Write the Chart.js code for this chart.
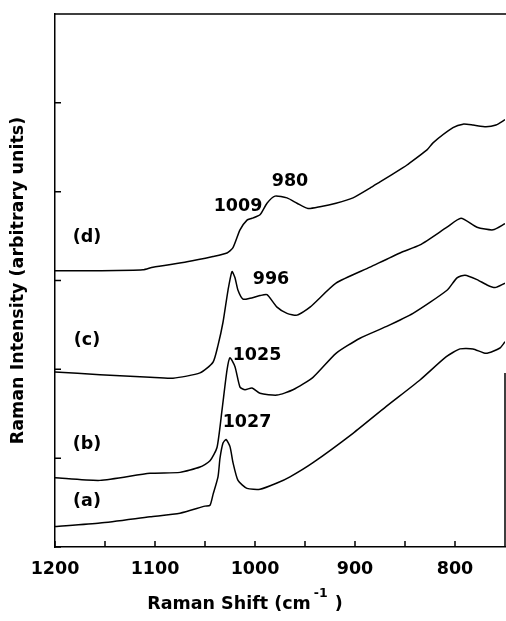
<!DOCTYPE html>
<html>
<head>
<meta charset="utf-8">
<script src="https://cdn.jsdelivr.net/npm/chart.js@4.4.1/dist/chart.umd.min.js"></script>
<style>
  html, body { margin: 0; padding: 0; background: #fff; }
  canvas { display: block; }
</style>
</head>
<body>
<canvas id="chart" width="506" height="621"></canvas>
<script>
'use strict';

// Raman shift (cm-1) and intensity (arbitrary units)
let shiftA = [1200, 1155, 1105, 1075, 1050, 1045, 1042, 1037, 1035, 1032, 1029, 1025, 1022, 1017, 1008, 995, 978, 965, 942, 902, 869, 835, 809, 795, 782, 769, 755, 750];
let intensityA = [0.23, 0.27, 0.34, 0.38, 0.46, 0.47, 0.59, 0.79, 1.00, 1.17, 1.21, 1.13, 0.95, 0.75, 0.66, 0.65, 0.72, 0.79, 0.95, 1.28, 1.58, 1.88, 2.14, 2.23, 2.23, 2.18, 2.24, 2.31];

let shiftB = [1200, 1155, 1105, 1075, 1055, 1045, 1038, 1033, 1028, 1025, 1020, 1015, 1010, 1003, 995, 978, 962, 942, 919, 895, 869, 842, 808, 798, 790, 778, 768, 760, 750];
let intensityB = [0.78, 0.75, 0.83, 0.84, 0.90, 0.97, 1.12, 1.54, 1.99, 2.13, 2.03, 1.80, 1.77, 1.79, 1.73, 1.71, 1.77, 1.91, 2.18, 2.35, 2.48, 2.63, 2.89, 3.03, 3.06, 3.01, 2.95, 2.92, 2.97];

let shiftC = [1200, 1155, 1105, 1082, 1055, 1042, 1037, 1032, 1027, 1023, 1020, 1017, 1012, 1005, 995, 988, 978, 968, 958, 945, 919, 885, 855, 835, 808, 794, 778, 762, 750];
let intensityC = [1.97, 1.94, 1.91, 1.90, 1.96, 2.08, 2.27, 2.53, 2.89, 3.10, 3.03, 2.89, 2.79, 2.80, 2.83, 2.84, 2.70, 2.63, 2.61, 2.70, 2.97, 3.15, 3.31, 3.40, 3.60, 3.70, 3.60, 3.57, 3.64];

let shiftD = [1200, 1155, 1112, 1102, 1068, 1042, 1028, 1022, 1015, 1008, 1003, 995, 988, 980, 968, 958, 947, 935, 919, 902, 885, 875, 852, 848, 828, 822, 802, 792, 782, 769, 759, 750];
let intensityD = [3.11, 3.11, 3.12, 3.15, 3.21, 3.27, 3.31, 3.37, 3.57, 3.68, 3.70, 3.74, 3.87, 3.95, 3.93, 3.87, 3.81, 3.83, 3.87, 3.93, 4.04, 4.11, 4.27, 4.30, 4.47, 4.55, 4.72, 4.76, 4.75, 4.73, 4.75, 4.81];

// trace names and peak labels, placed in data units
let curveNames = ['(a)', '(b)', '(c)', '(d)'];
let curveNameShift = [1168, 1168, 1168, 1168];
let curveNameY = [0.51, 1.15, 2.33, 3.49];

let peakLabels = ['1027', '1025', '996', '1009', '980'];
let peakLabelShift = [1008, 998, 984, 1017, 965];
let peakLabelY = [1.40, 2.16, 3.01, 3.83, 4.11];

let xTickLabels = [1200, 1100, 1000, 900, 800];

let labelFont = 'bold 17.5px "DejaVu Sans"';

function toPoints(xs, ys) {
  let pts = [];
  for (let i = 0; i < xs.length; i++) {
    pts.push({ x: xs[i], y: ys[i] });
  }
  return pts;
}

function traceSet(xs, ys) {
  return {
    data: toPoints(xs, ys),
    borderColor: '#000',
    borderWidth: 1.5,
    pointRadius: 0,
    tension: 0.2,
    fill: false
  };
}

// frame pieces, inward ticks and the text written on the plot
let framePlugin = {
  id: 'frame',
  afterDraw(chart) {
    let ctx = chart.ctx;
    let area = chart.chartArea;
    let xs = chart.scales.x;
    let ys = chart.scales.y;
    ctx.save();
    ctx.strokeStyle = '#000';
    ctx.lineWidth = 1.5;
    ctx.beginPath();
    ctx.moveTo(area.left, area.top);
    ctx.lineTo(chart.width, area.top);
    ctx.moveTo(area.right, ys.getPixelForValue(1.96));
    ctx.lineTo(area.right, area.bottom);
    xs.ticks.forEach(t => {
      let px = xs.getPixelForValue(t.value);
      ctx.moveTo(px, area.bottom);
      ctx.lineTo(px, area.bottom - 6);
    });
    ys.ticks.forEach(t => {
      let py = ys.getPixelForValue(t.value);
      ctx.moveTo(area.left, py);
      ctx.lineTo(area.left + 6, py);
    });
    ctx.stroke();

    ctx.fillStyle = '#000';
    ctx.font = labelFont;
    ctx.textAlign = 'center';
    ctx.textBaseline = 'middle';
    for (let i = 0; i < curveNames.length; i++) {
      ctx.fillText(curveNames[i], xs.getPixelForValue(curveNameShift[i]), ys.getPixelForValue(curveNameY[i]));
    }
    for (let i = 0; i < peakLabels.length; i++) {
      ctx.fillText(peakLabels[i], xs.getPixelForValue(peakLabelShift[i]), ys.getPixelForValue(peakLabelY[i]));
    }

    // x axis title with a raised -1
    let part1 = 'Raman Shift (cm';
    let sup = '-1';
    let part3 = ' )';
    let supFont = 'bold 12.5px "DejaVu Sans"';
    ctx.textAlign = 'left';
    ctx.textBaseline = 'alphabetic';
    ctx.font = labelFont;
    let w1 = ctx.measureText(part1).width;
    let w3 = ctx.measureText(part3).width;
    ctx.font = supFont;
    let w2 = ctx.measureText(sup).width + 4;
    let startX = 245 - (w1 + w2 + w3) / 2;
    let baseY = 609;
    ctx.font = labelFont;
    ctx.fillText(part1, startX, baseY);
    ctx.font = supFont;
    ctx.fillText(sup, startX + w1 + 3, baseY - 12);
    ctx.font = labelFont;
    ctx.fillText(part3, startX + w1 + w2, baseY);
    ctx.restore();
  }
};

let config = {
  type: 'line',
  data: {
    datasets: [
      traceSet(shiftA, intensityA),
      traceSet(shiftB, intensityB),
      traceSet(shiftC, intensityC),
      traceSet(shiftD, intensityD)
    ]
  },
  options: {
    responsive: false,
    animation: false,
    layout: { padding: { top: 14, right: 1, left: 0, bottom: 0 } },
    plugins: { legend: { display: false }, tooltip: { enabled: false } },
    scales: {
      x: {
        type: 'linear',
        min: 750,
        max: 1200,
        reverse: true,
        afterFit(scale) {
          scale.height = 74;
          scale.paddingLeft = 0;
          scale.paddingRight = 0;
        },
        grid: { display: false, drawTicks: false },
        border: { display: true, color: '#000', width: 1.5 },
        ticks: {
          stepSize: 50,
          padding: 12,
          color: '#000',
          font: { family: 'DejaVu Sans', size: 17.5, weight: 'bold' },
          maxRotation: 0,
          autoSkip: false,
          callback: (v) => xTickLabels.includes(v) ? String(v) : ''
        }
      },
      y: {
        min: 0,
        max: 6,
        afterFit(scale) { scale.width = 55; },
        grid: { display: false, drawTicks: false },
        border: { display: true, color: '#000', width: 1.5 },
        ticks: { stepSize: 1, display: false },
        title: {
          display: true,
          text: 'Raman Intensity (arbitrary units)',
          color: '#000',
          font: { family: 'DejaVu Sans', size: 17.5, weight: 'bold' },
          padding: { top: 8, bottom: 0 }
        }
      }
    }
  },
  plugins: [framePlugin]
};

new Chart(document.getElementById('chart'), config);
</script>
</body>
</html>
